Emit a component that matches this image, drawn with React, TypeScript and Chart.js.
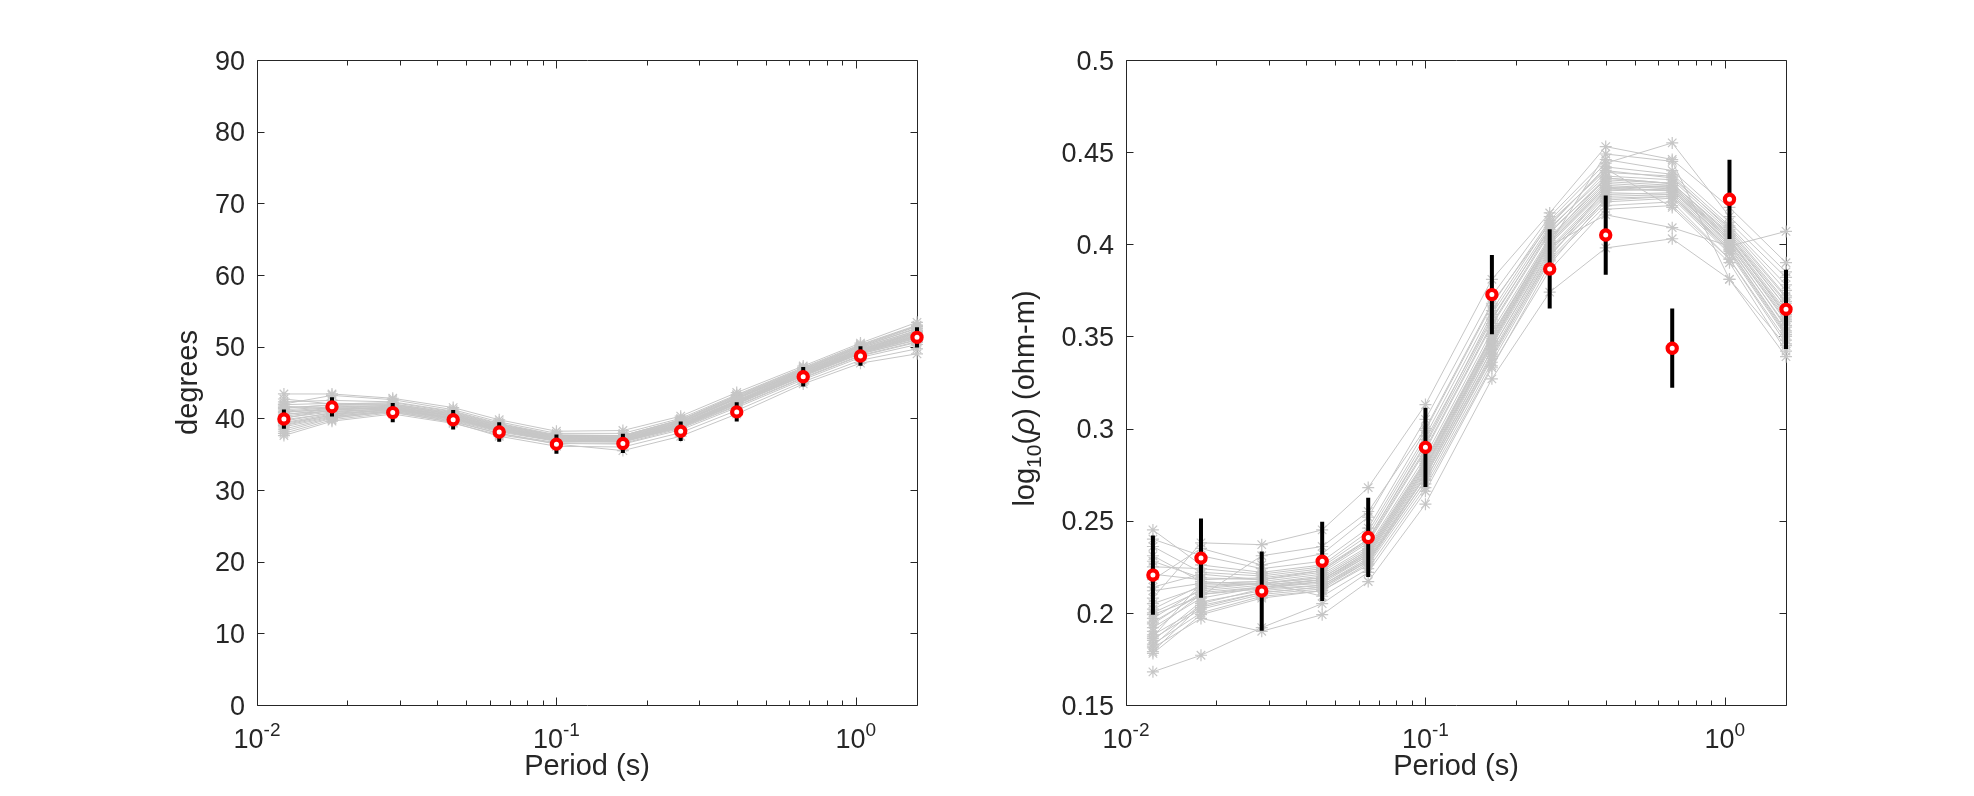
import React, { useEffect, useRef } from "react";
import { Chart, registerables } from "chart.js";

Chart.register(...registerables);

// ---------------- data ----------------
const periods = [0.0123, 0.0178, 0.0284, 0.0452, 0.0644, 0.1, 0.1667, 0.26, 0.4, 0.667, 1.036, 1.6];

const phaseObs = [39.9, 41.6, 40.8, 39.8, 38.1, 36.4, 36.5, 38.2, 40.9, 45.8, 48.7, 51.3];
const phaseErr = [1.35, 1.35, 1.35, 1.35, 1.35, 1.35, 1.35, 1.35, 1.35, 1.35, 1.35, 1.4];

const rhoObs = [0.2205, 0.2297, 0.2118, 0.228, 0.2409, 0.2898, 0.3727, 0.3866, 0.405, 0.3436, 0.4244, 0.3647];
const rhoErr = [0.0215, 0.0215, 0.0215, 0.0215, 0.0215, 0.0215, 0.0215, 0.0215, 0.0215, 0.0215, 0.0215, 0.0215];

const phaseModels: number[][] = [
  [40.3, 41.1, 41.6, 40.3, 38.7, 37.2, 37.2, 39.3, 42.5, 46.4, 49.5, 51.8],
  [39.1, 40.5, 41.3, 40.0, 38.4, 37.0, 36.9, 38.9, 42.1, 46.0, 49.1, 51.2],
  [41.5, 41.8, 41.9, 40.6, 38.9, 37.4, 37.3, 39.4, 42.7, 46.6, 49.8, 52.3],
  [38.2, 40.0, 41.0, 39.7, 38.1, 36.8, 36.7, 38.7, 41.8, 45.7, 48.8, 50.7],
  [42.3, 42.5, 42.3, 41.0, 39.3, 37.7, 37.6, 39.8, 43.1, 46.9, 50.1, 52.8],
  [40.8, 41.4, 41.7, 40.4, 38.8, 37.4, 37.4, 39.5, 42.8, 46.7, 49.9, 52.2],
  [39.6, 40.8, 41.4, 40.1, 38.5, 37.1, 37.0, 39.0, 42.2, 46.2, 49.3, 51.5],
  [37.6, 39.6, 40.6, 39.3, 37.7, 36.5, 36.4, 38.4, 41.5, 45.4, 48.5, 50.3],
  [43.4, 43.4, 42.8, 41.5, 39.8, 38.2, 38.3, 40.3, 43.6, 47.3, 50.5, 53.4],
  [40.0, 41.2, 41.5, 40.2, 38.6, 37.3, 37.2, 39.2, 42.4, 46.3, 49.4, 51.7],
  [41.0, 41.5, 41.8, 40.5, 38.8, 37.3, 37.1, 39.1, 42.3, 46.1, 49.2, 51.3],
  [38.8, 40.2, 41.1, 39.8, 38.2, 36.9, 36.8, 38.8, 42.0, 45.9, 49.0, 51.0],
  [41.9, 42.1, 42.0, 40.7, 39.0, 37.5, 37.5, 39.6, 42.9, 46.8, 50.0, 52.5],
  [39.4, 40.6, 41.2, 39.9, 38.3, 36.9, 36.8, 38.9, 42.1, 46.0, 49.2, 51.4],
  [40.5, 41.3, 41.6, 40.4, 38.7, 37.2, 37.1, 39.2, 42.5, 46.5, 49.6, 52.0],
  [37.9, 39.8, 40.8, 39.5, 37.9, 36.6, 36.5, 38.6, 41.7, 45.6, 48.7, 50.6],
  [42.0, 43.2, 42.6, 41.2, 39.5, 37.9, 37.9, 40.0, 43.3, 47.1, 50.3, 53.0],
  [40.1, 40.9, 41.4, 40.0, 38.4, 37.0, 36.9, 39.0, 42.2, 46.2, 49.4, 51.6],
  [41.2, 41.6, 41.8, 40.6, 39.0, 37.5, 37.4, 39.5, 42.8, 46.6, 49.7, 52.1],
  [39.0, 40.3, 41.0, 39.6, 37.9, 36.4, 35.5, 37.5, 40.6, 44.8, 47.7, 49.0],
  [40.6, 41.0, 41.3, 40.1, 38.5, 37.1, 37.0, 39.1, 42.3, 46.2, 49.3, 51.5],
  [38.5, 40.1, 40.9, 39.4, 37.5, 36.1, 36.0, 38.0, 41.1, 45.1, 48.1, 49.7],
  [42.7, 42.0, 42.2, 40.9, 39.2, 37.6, 37.6, 39.7, 43.0, 46.8, 50.0, 52.6],
  [39.8, 40.7, 41.2, 39.9, 38.3, 36.9, 36.8, 38.8, 42.0, 46.0, 49.1, 51.2],
  [41.4, 41.9, 42.0, 40.8, 39.1, 37.6, 37.6, 39.8, 43.2, 47.0, 50.2, 52.9],
  [40.9, 41.2, 41.5, 40.3, 38.6, 37.2, 37.1, 39.1, 42.4, 46.3, 49.5, 51.9],
  [39.3, 40.4, 41.2, 40.0, 38.6, 37.3, 37.3, 39.4, 42.7, 46.5, 49.6, 52.0],
  [41.7, 41.3, 41.4, 40.0, 38.3, 36.8, 36.7, 38.8, 42.0, 45.9, 49.0, 50.9],
];

const rhoModels: number[][] = [
  [0.205, 0.214, 0.216, 0.219, 0.234, 0.282, 0.350, 0.402, 0.432, 0.430, 0.402, 0.362],
  [0.182, 0.205, 0.213, 0.215, 0.229, 0.275, 0.343, 0.397, 0.428, 0.427, 0.398, 0.356],
  [0.228, 0.219, 0.218, 0.222, 0.238, 0.288, 0.356, 0.406, 0.436, 0.433, 0.405, 0.368],
  [0.168, 0.177, 0.192, 0.205, 0.222, 0.266, 0.333, 0.389, 0.425, 0.426, 0.397, 0.352],
  [0.195, 0.210, 0.214, 0.217, 0.232, 0.279, 0.347, 0.400, 0.430, 0.429, 0.401, 0.360],
  [0.245, 0.226, 0.222, 0.226, 0.244, 0.296, 0.364, 0.412, 0.440, 0.436, 0.409, 0.375],
  [0.188, 0.203, 0.211, 0.214, 0.228, 0.272, 0.339, 0.394, 0.426, 0.427, 0.397, 0.353],
  [0.212, 0.216, 0.217, 0.221, 0.236, 0.285, 0.353, 0.404, 0.434, 0.432, 0.404, 0.366],
  [0.178, 0.199, 0.208, 0.212, 0.226, 0.270, 0.336, 0.391, 0.421, 0.423, 0.392, 0.346],
  [0.236, 0.222, 0.220, 0.224, 0.240, 0.291, 0.359, 0.409, 0.437, 0.435, 0.407, 0.371],
  [0.200, 0.212, 0.215, 0.218, 0.233, 0.280, 0.348, 0.401, 0.431, 0.429, 0.400, 0.359],
  [0.185, 0.206, 0.212, 0.215, 0.230, 0.276, 0.343, 0.396, 0.427, 0.428, 0.399, 0.355],
  [0.218, 0.235, 0.226, 0.232, 0.252, 0.305, 0.372, 0.415, 0.446, 0.440, 0.412, 0.382],
  [0.192, 0.208, 0.214, 0.216, 0.231, 0.277, 0.345, 0.398, 0.429, 0.430, 0.400, 0.358],
  [0.231, 0.217, 0.215, 0.218, 0.233, 0.281, 0.349, 0.401, 0.431, 0.431, 0.402, 0.363],
  [0.181, 0.197, 0.190, 0.199, 0.217, 0.259, 0.327, 0.374, 0.398, 0.403, 0.381, 0.339],
  [0.208, 0.238, 0.237, 0.245, 0.268, 0.313, 0.381, 0.417, 0.453, 0.446, 0.420, 0.390],
  [0.197, 0.213, 0.216, 0.220, 0.235, 0.283, 0.351, 0.403, 0.433, 0.431, 0.403, 0.364],
  [0.221, 0.218, 0.219, 0.223, 0.239, 0.289, 0.357, 0.407, 0.435, 0.433, 0.406, 0.369],
  [0.183, 0.200, 0.209, 0.212, 0.227, 0.272, 0.338, 0.392, 0.423, 0.425, 0.395, 0.350],
  [0.214, 0.221, 0.218, 0.223, 0.240, 0.292, 0.362, 0.410, 0.442, 0.438, 0.410, 0.378],
  [0.190, 0.210, 0.213, 0.217, 0.231, 0.278, 0.346, 0.399, 0.416, 0.409, 0.399, 0.407],
  [0.240, 0.231, 0.224, 0.228, 0.246, 0.299, 0.367, 0.413, 0.444, 0.455, 0.415, 0.385],
  [0.186, 0.202, 0.210, 0.213, 0.228, 0.274, 0.341, 0.395, 0.424, 0.426, 0.396, 0.351],
  [0.202, 0.215, 0.216, 0.219, 0.234, 0.282, 0.350, 0.403, 0.436, 0.433, 0.405, 0.366],
  [0.179, 0.204, 0.211, 0.214, 0.229, 0.274, 0.340, 0.393, 0.430, 0.432, 0.403, 0.361],
  [0.225, 0.224, 0.221, 0.225, 0.242, 0.294, 0.360, 0.408, 0.439, 0.437, 0.408, 0.372],
  [0.194, 0.211, 0.214, 0.218, 0.232, 0.279, 0.347, 0.400, 0.449, 0.445, 0.381, 0.345],
  [0.199, 0.209, 0.231, 0.236, 0.255, 0.300, 0.368, 0.411, 0.441, 0.420, 0.390, 0.342],
  [0.187, 0.216, 0.217, 0.209, 0.224, 0.268, 0.334, 0.386, 0.419, 0.421, 0.392, 0.348],
];

const xTickExps = [-2, -1, 0];
const xMin = 0.01;
const phaseTicks = [0, 10, 20, 30, 40, 50, 60, 70, 80, 90];
const phaseTickLabels = ["0", "10", "20", "30", "40", "50", "60", "70", "80", "90"];
const rhoTicks = [0.15, 0.2, 0.25, 0.3, 0.35, 0.4, 0.45, 0.5];
const rhoTickLabels = ["0.15", "0.2", "0.25", "0.3", "0.35", "0.4", "0.45", "0.5"];
const xTitle = "Period (s)";
const phaseTitle = "degrees";

// ---------------- styling ----------------
const FONT = '"Liberation Sans", Arial, Helvetica, sans-serif';
const INK = "#262626";
const GRAY = "#c6c6c6";
const TICK_PX = 27;
const SUP_PX = 19;
const TITLE_PX = 29;
const CW = 987;
const CH = 796;

type Part = { text: string; font: string; dy: number };

function buildDatasets(models: number[][], obs: number[], err: number[]) {
  const ds: any[] = [];
  models.forEach((m, k) => {
    ds.push({
      label: "model " + (k + 1),
      data: periods.map((p, i) => ({ x: p, y: m[i] })),
      borderColor: GRAY,
      borderWidth: 1,
      pointStyle: "star",
      pointRadius: 6,
      pointBorderColor: GRAY,
      pointBackgroundColor: GRAY,
      pointBorderWidth: 1.2,
      showLine: true,
      tension: 0,
      clip: false,
      order: 3,
    });
  });
  const bars: any[] = [];
  periods.forEach((p, i) => {
    bars.push({ x: p, y: obs[i] - err[i] }, { x: p, y: obs[i] + err[i] }, { x: p, y: null });
  });
  ds.push({
    label: "error",
    data: bars,
    borderColor: "#000000",
    borderWidth: 4,
    borderCapStyle: "butt",
    pointRadius: 0,
    spanGaps: false,
    showLine: true,
    clip: false,
    order: 2,
  });
  ds.push({
    label: "observed",
    data: periods.map((p, i) => ({ x: p, y: obs[i] })),
    showLine: false,
    pointStyle: "circle",
    pointRadius: 4.6,
    pointBorderWidth: 4.2,
    pointBorderColor: "#ff0000",
    pointBackgroundColor: "#ffffff",
    clip: false,
    order: 1,
  });
  return ds;
}

function axesPlugin(cfg: {
  yTicks: number[];
  yLabels: string[];
  yTitle: Part[];
  yTitleOffset: number;
  yTitleShift: number;
}) {
  return {
    id: "matlabAxes",
    beforeDatasetsDraw(chart: any) {
      const { ctx, chartArea: a } = chart;
      const xs = chart.scales.x;
      const ys = chart.scales.y;
      const L = Math.round(a.left) + 0.5;
      const R = Math.round(a.right) + 0.5;
      const T = Math.round(a.top) + 0.5;
      const B = Math.round(a.bottom) + 0.5;
      ctx.save();
      ctx.strokeStyle = INK;
      ctx.lineWidth = 1;
      ctx.beginPath();
      ctx.rect(L, T, R - L, B - T);
      const xmax = xs.max;
      for (const e of xTickExps) {
        const base = Math.pow(10, e);
        for (let m = 1; m <= 9; m++) {
          const v = m * base;
          if (v < xMin - 1e-12 || v > xmax + 1e-12) continue;
          const px = Math.round(xs.getPixelForValue(v)) + 0.5;
          const len = m === 1 ? 8 : 5;
          ctx.moveTo(px, B);
          ctx.lineTo(px, B - len);
          ctx.moveTo(px, T);
          ctx.lineTo(px, T + len);
        }
      }
      for (const t of cfg.yTicks) {
        const py = Math.round(ys.getPixelForValue(t)) + 0.5;
        ctx.moveTo(L, py);
        ctx.lineTo(L + 7, py);
        ctx.moveTo(R, py);
        ctx.lineTo(R - 7, py);
      }
      ctx.stroke();
      ctx.restore();
    },
    afterDraw(chart: any) {
      const { ctx, chartArea: a } = chart;
      const xs = chart.scales.x;
      const ys = chart.scales.y;
      ctx.save();
      ctx.fillStyle = INK;
      ctx.font = `${TICK_PX}px ${FONT}`;
      ctx.textAlign = "right";
      ctx.textBaseline = "alphabetic";
      cfg.yTicks.forEach((t, i) => {
        const py = ys.getPixelForValue(t);
        ctx.fillText(cfg.yLabels[i], a.left - 12, py + TICK_PX * 0.358);
      });
      ctx.textAlign = "left";
      const baseY = a.bottom + 43;
      for (const e of xTickExps) {
        const px = xs.getPixelForValue(Math.pow(10, e));
        const baseTxt = "10";
        const supTxt = String(e);
        ctx.font = `${TICK_PX}px ${FONT}`;
        const w1 = ctx.measureText(baseTxt).width;
        ctx.font = `${SUP_PX}px ${FONT}`;
        const w2 = ctx.measureText(supTxt).width;
        const x0 = px - (w1 + w2) / 2;
        ctx.font = `${TICK_PX}px ${FONT}`;
        ctx.fillText(baseTxt, x0, baseY);
        ctx.font = `${SUP_PX}px ${FONT}`;
        ctx.fillText(supTxt, x0 + w1, baseY - 12);
      }
      ctx.font = `${TITLE_PX}px ${FONT}`;
      ctx.textAlign = "center";
      ctx.fillText(xTitle, (a.left + a.right) / 2, a.bottom + 70);
      ctx.translate(a.left - cfg.yTitleOffset, (a.top + a.bottom) / 2 + cfg.yTitleShift);
      ctx.rotate(-Math.PI / 2);
      ctx.textAlign = "left";
      let total = 0;
      for (const p of cfg.yTitle) {
        ctx.font = p.font;
        total += ctx.measureText(p.text).width;
      }
      let x = -total / 2;
      for (const p of cfg.yTitle) {
        ctx.font = p.font;
        ctx.fillText(p.text, x, p.dy);
        x += ctx.measureText(p.text).width;
      }
      ctx.restore();
    },
  };
}

function makeConfig(
  models: number[][],
  obs: number[],
  err: number[],
  yMin: number,
  yMax: number,
  yTicks: number[],
  yLabels: string[],
  yTitle: Part[],
  yTitleOffset: number,
  yTitleShift: number,
  padding: { left: number; right: number; top: number; bottom: number }
): any {
  return {
    type: "line",
    data: { datasets: buildDatasets(models, obs, err) },
    options: {
      animation: false,
      responsive: false,
      devicePixelRatio: 1,
      events: [],
      layout: { padding },
      plugins: { legend: { display: false }, tooltip: { enabled: false }, title: { display: false } },
      scales: {
        x: { type: "logarithmic", min: xMin, max: periods[periods.length - 1], display: false },
        y: { type: "linear", min: yMin, max: yMax, display: false },
      },
    },
    plugins: [axesPlugin({ yTicks, yLabels, yTitle, yTitleOffset, yTitleShift })],
  };
}

export default function App() {
  const leftRef = useRef<HTMLCanvasElement>(null);
  const rightRef = useRef<HTMLCanvasElement>(null);

  useEffect(() => {
    const titleFont = `${TITLE_PX}px ${FONT}`;
    const c1 = new Chart(
      leftRef.current as HTMLCanvasElement,
      makeConfig(
        phaseModels,
        phaseObs,
        phaseErr,
        0,
        90,
        phaseTicks,
        phaseTickLabels,
        [{ text: phaseTitle, font: titleFont, dy: 0 }],
        60,
        0,
        { left: 257, right: 70, top: 60, bottom: 91 }
      )
    );
    const c2 = new Chart(
      rightRef.current as HTMLCanvasElement,
      makeConfig(
        rhoModels,
        rhoObs,
        rhoErr,
        0.15,
        0.5,
        rhoTicks,
        rhoTickLabels,
        [
          { text: "log", font: titleFont, dy: 0 },
          { text: "10", font: `21px ${FONT}`, dy: 7 },
          { text: "(", font: titleFont, dy: 0 },
          { text: "ρ", font: `italic ${TITLE_PX + 1}px ${FONT}`, dy: 0 },
          { text: ") (ohm-m)", font: titleFont, dy: 0 },
        ],
        92,
        16,
        { left: 139, right: 188, top: 60, bottom: 91 }
      )
    );
    return () => {
      c1.destroy();
      c2.destroy();
    };
  }, []);

  return (
    <div style={{ position: "absolute", left: 0, top: 0, width: 1974, height: 796, background: "#ffffff", overflow: "hidden" }}>
      <canvas ref={leftRef} width={CW} height={CH} style={{ position: "absolute", left: 0, top: 0, width: CW, height: CH }} />
      <canvas ref={rightRef} width={CW} height={CH} style={{ position: "absolute", left: CW, top: 0, width: CW, height: CH }} />
    </div>
  );
}
